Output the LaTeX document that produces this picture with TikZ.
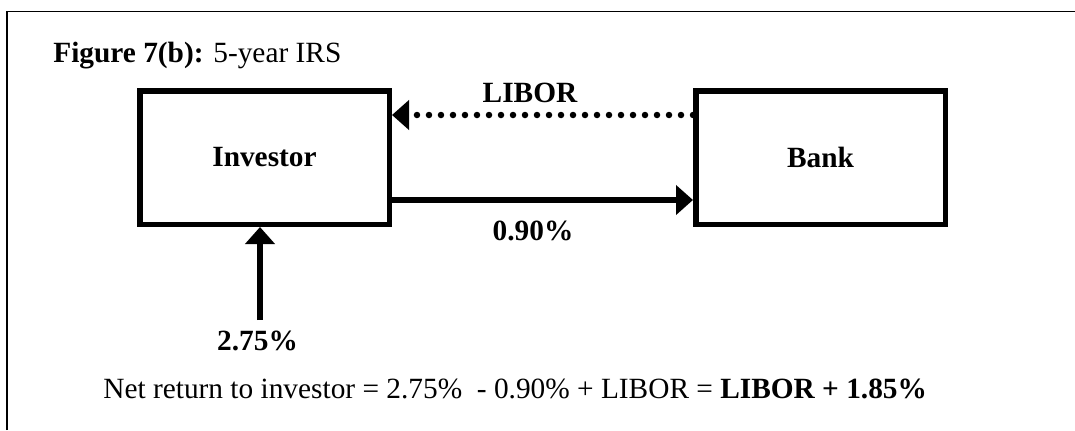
\documentclass[tikz,border=0pt]{standalone}
\usepackage{fontspec}
\setmainfont{Liberation Serif}
\usepackage{tikz}
\usetikzlibrary{arrows.meta}

\begin{document}
\begin{tikzpicture}[node distance=5.56cm, every node/.style={font=\fontsize{16.7}{20}\selectfont}]
  \tikzstyle{box}=[rectangle, draw, line width=0.11cm, minimum width=4.99cm,
  minimum height=2.67cm, font=\fontsize{16.7}{20}\selectfont\bfseries]
  \tikzstyle{flow}=[line width=0.12cm, -{Triangle[length=0.34cm, width=0.58cm]}]
  \tikzstyle{label}=[anchor=base, inner sep=0pt, font=\fontsize{16.7}{20}\selectfont\bfseries]
  \useasboundingbox (0,0) rectangle (21.5,-8.6);
  % open frame, top and left side only
  \draw[line width=0.04cm] (0.15,-8.6) -- (0.15,-0.23) -- (21.5,-0.23);
  \node[anchor=base west, inner sep=0pt] (title) at (1.06,-1.24) {\textbf{Figure 7(b):} 5-year IRS};
  \node[box] (investor) at (5.29,-3.15) {Investor};
  \node[box, right of=investor, xshift=5.56cm] (bank) {Bank};
  \coordinate (fixed) at (5.20,-6.40);
  \draw[flow, line width=0.13cm, line cap=round, dash pattern=on 0pt off 0.24cm]
    ([yshift=0.85cm]bank.west) -- ([yshift=0.85cm]investor.east);
  \draw[flow] ([yshift=-0.85cm]investor.east) -- ([yshift=-0.85cm]bank.west);
  \draw[flow] (fixed) -- ([xshift=-0.09cm]investor.south);
  \node[label] (libor) at (10.6,-2.04) {LIBOR};
  \node[label] (pay) at (10.66,-4.80) {0.90\%};
  \node[label] (rate) at (5.15,-7.0) {2.75\%};
  \node[anchor=base west, inner sep=0pt] (net) at (2.06,-7.96)
    {Net return to investor = 2.75\% \ - 0.90\% + LIBOR = \textbf{LIBOR + 1.85\%}};
\end{tikzpicture}
\end{document}
